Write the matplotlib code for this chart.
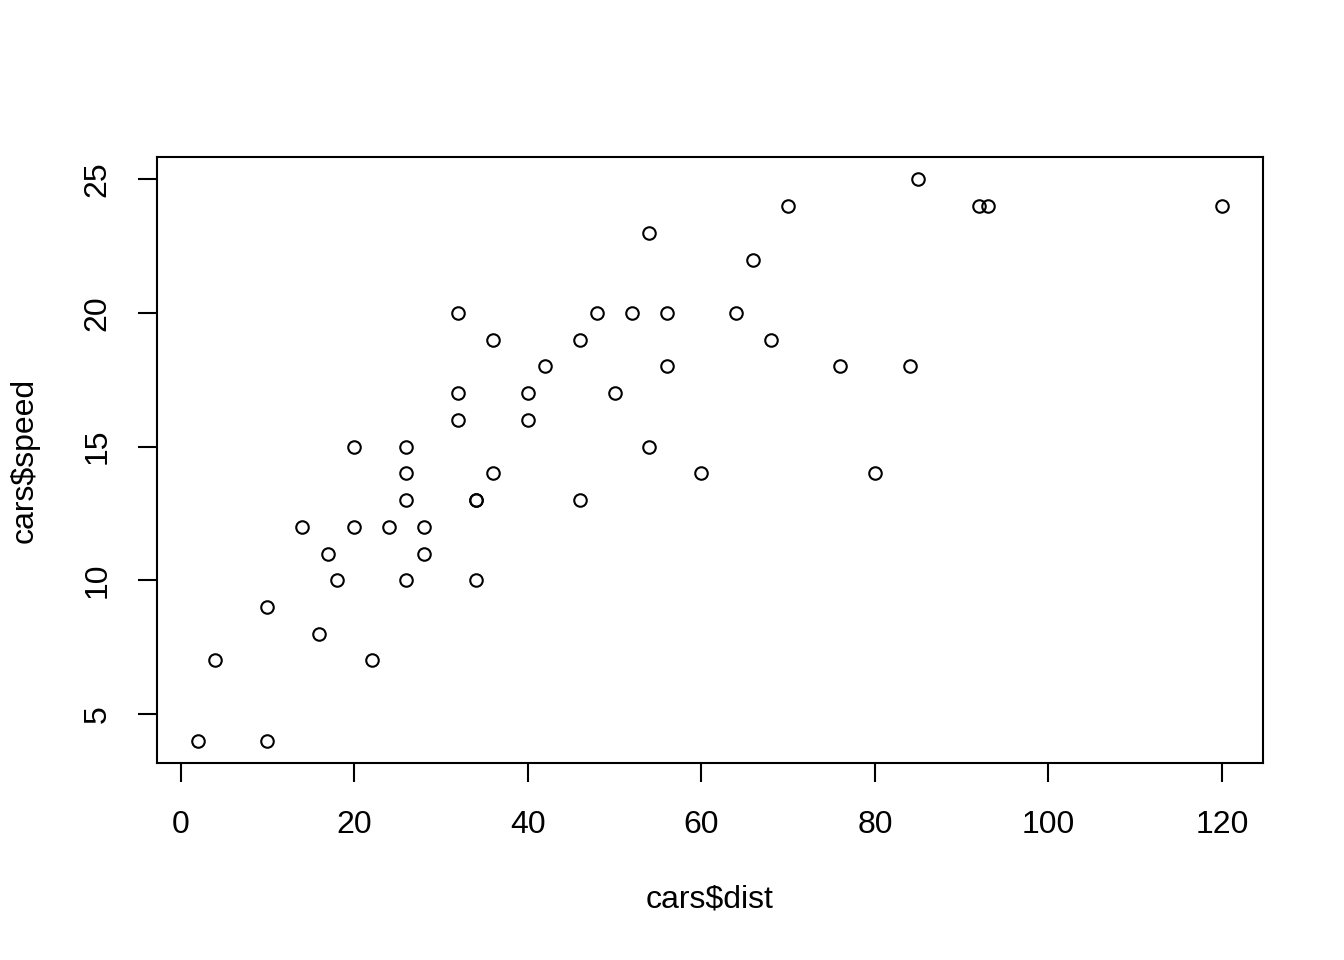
import matplotlib
matplotlib.use("Agg")
import matplotlib.pyplot as plt

# R built-in "cars" dataset
speed = [4, 4, 7, 7, 8, 9, 10, 10, 10, 11, 11, 12, 12, 12, 12, 13, 13, 13, 13,
         14, 14, 14, 14, 15, 15, 15, 16, 16, 17, 17, 17, 18, 18, 18, 18, 19, 19,
         19, 20, 20, 20, 20, 20, 22, 23, 24, 24, 24, 24, 25]
dist = [2, 10, 4, 22, 16, 10, 18, 26, 34, 17, 28, 14, 20, 24, 28, 26, 34, 34, 46,
        26, 36, 60, 80, 20, 26, 54, 32, 40, 32, 40, 50, 42, 56, 76, 84, 36, 46,
        68, 32, 48, 52, 56, 64, 66, 54, 70, 92, 93, 120, 85]
x_ticks = [0, 20, 40, 60, 80, 100, 120]
y_ticks = [5, 10, 15, 20, 25]

plt.rcParams["font.family"] = ["Liberation Sans", "DejaVu Sans"]

fig = plt.figure(figsize=(13.44, 9.6), dpi=100)
ax = fig.add_axes([157 / 1344, 1 - 763 / 960, (1263 - 157) / 1344, (763 - 157) / 960])

ax.plot(dist, speed, linestyle="none", marker="o", markersize=9.0,
        markerfacecolor="none", markeredgecolor="black", markeredgewidth=1.5)

# R default: 4% padding on each side
xr = max(dist) - min(dist)
yr = max(speed) - min(speed)
ax.set_xlim(min(dist) - 0.04 * xr, max(dist) + 0.04 * xr)
ax.set_ylim(min(speed) - 0.04 * yr, max(speed) + 0.04 * yr)

ax.set_xticks(x_ticks)
ax.set_yticks(y_ticks)
ax.tick_params(direction="out", length=14, width=1.5, labelsize=23)
ax.tick_params(axis="x", pad=20)
ax.tick_params(axis="y", pad=18)
for lab in ax.get_yticklabels():
    lab.set_rotation(90)
    lab.set_va("center")
for sp in ax.spines.values():
    sp.set_linewidth(1.5)

fig.text(710 / 1344, 1 - 900 / 960, "cars$dist", fontsize=23, ha="center", va="center")
fig.text(25 / 1344, 1 - 460 / 960, "cars$speed", fontsize=23, ha="center", va="center",
         rotation=90)

fig.savefig("out.png", dpi=100)
